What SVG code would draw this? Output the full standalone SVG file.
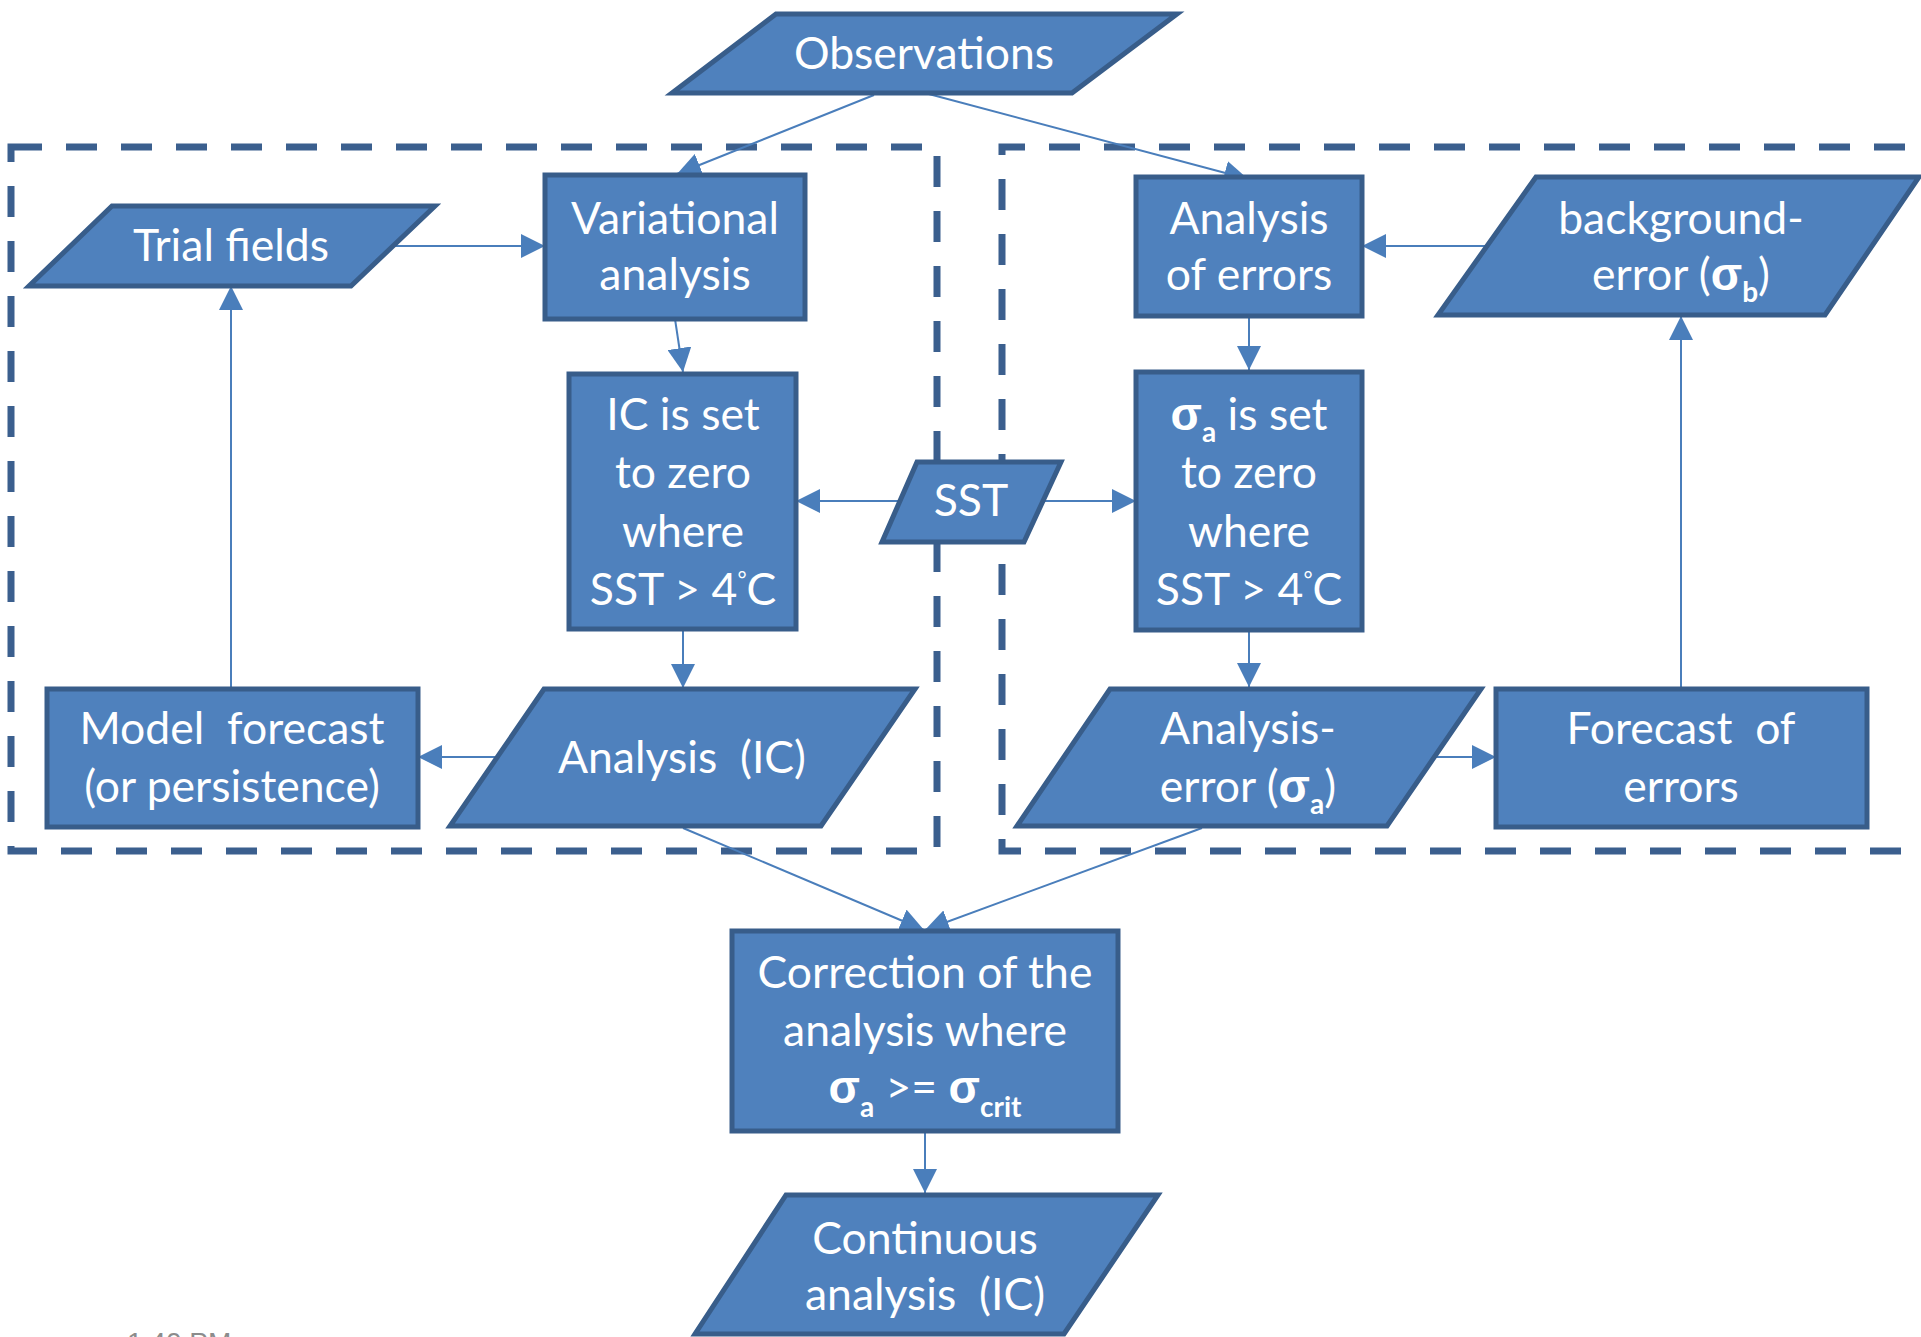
<svg xmlns="http://www.w3.org/2000/svg" width="1921" height="1337" viewBox="0 0 1921 1337">
<style>
.node { fill:#4F81BD; stroke:#385D8A; stroke-width:5; stroke-linejoin:miter; }
.lbl { font-family:Lato, "Liberation Sans", sans-serif; font-size:44.5px; fill:#FFFFFF; text-anchor:middle; white-space:pre; }
.sg { font-family:"Liberation Sans", "DejaVu Sans", sans-serif; font-weight:bold; font-size:46px; }
.sub { font-family:Lato, "Liberation Sans", sans-serif; font-weight:bold; font-size:28px; }
.dash { fill:none; stroke:#3B5F8E; stroke-width:7; stroke-dasharray:31 24; }
.conn { fill:none; stroke:#4A7EBB; stroke-width:2; marker-end:url(#arr); }
</style>
<defs>
<marker id="arr" markerUnits="userSpaceOnUse" viewBox="0 0 24 24" refX="24" refY="12" markerWidth="24" markerHeight="24" orient="auto">
<path d="M0,0 L24,12 L0,24 z" fill="#4A7EBB"/>
</marker>
</defs>
<rect width="1921" height="1337" fill="#FFFFFF"/>
<g id="groups">
<path class="dash" d="M11,147 H937 V851 H11 Z"/>
<path class="dash" d="M1960,147 H1002 V851 H1960"/>
</g>
<g id="connectors">
<path class="conn" d="M874,95 L677,174"/>
<path class="conn" d="M925,93 L1248,179"/>
<path class="conn" d="M392,246 L545,246"/>
<path class="conn" d="M675,319 L683,372"/>
<path class="conn" d="M900,501 L796,501"/>
<path class="conn" d="M1043,501 L1136,501"/>
<path class="conn" d="M1249,316 L1249,370"/>
<path class="conn" d="M1487,246 L1362,246"/>
<path class="conn" d="M683,629 L683,688"/>
<path class="conn" d="M497,757 L418,757"/>
<path class="conn" d="M231,689 L231,286"/>
<path class="conn" d="M1249,630 L1249,687"/>
<path class="conn" d="M1434,757 L1496,757"/>
<path class="conn" d="M1681,689 L1681,316"/>
<path class="conn" d="M683,828 L924,930"/>
<path class="conn" d="M1202,828 L925,930"/>
<path class="conn" d="M925,1131 L925,1193"/>
</g>
<g id="observations">
<polygon class="node" points="776,14 1177,14 1072,93 672,93"/>
<text class="lbl" x="924" y="69">Observations</text>
</g>
<g id="trial-fields">
<polygon class="node" points="112,206 435,206 351,286 29,286"/>
<text class="lbl" x="231" y="261">Trial fields</text>
</g>
<g id="variational-analysis">
<rect class="node" x="545" y="175" width="260" height="144"/>
<text class="lbl" x="675" y="234">Variational</text>
<text class="lbl" x="675" y="290">analysis</text>
</g>
<g id="ic-set-zero">
<rect class="node" x="569" y="374" width="227" height="255"/>
<text class="lbl" x="683" y="430">IC is set</text>
<text class="lbl" x="683" y="488">to zero</text>
<text class="lbl" x="683" y="547">where</text>
<text class="lbl" x="683" y="605">SST &gt; 4<tspan dy="-18" font-size="22">°</tspan><tspan dy="18">C</tspan></text>
</g>
<g id="sst">
<polygon class="node" points="917,462 1061,462 1024,542 882,542"/>
<text class="lbl" x="971" y="516">SST</text>
</g>
<g id="analysis-of-errors">
<rect class="node" x="1136" y="177" width="226" height="139"/>
<text class="lbl" x="1249" y="234">Analysis</text>
<text class="lbl" x="1249" y="290">of errors</text>
</g>
<g id="background-error">
<polygon class="node" points="1536,177 1919,177 1825,315 1438,315"/>
<text class="lbl" x="1681" y="234">background-</text>
<text class="lbl" x="1681" y="290">error (<tspan class="sg">σ</tspan><tspan class="sub" dy="12">b</tspan><tspan dy="-12">)</tspan></text>
</g>
<g id="sigma-a-set-zero">
<rect class="node" x="1136" y="372" width="226" height="258"/>
<text class="lbl" x="1249" y="430"><tspan class="sg">σ</tspan><tspan class="sub" dy="12">a</tspan><tspan dy="-12"> is set</tspan></text>
<text class="lbl" x="1249" y="488">to zero</text>
<text class="lbl" x="1249" y="547">where</text>
<text class="lbl" x="1249" y="605">SST &gt; 4<tspan dy="-18" font-size="22">°</tspan><tspan dy="18">C</tspan></text>
</g>
<g id="model-forecast">
<rect class="node" x="47" y="689" width="371" height="138"/>
<text class="lbl" x="232" y="744">Model  forecast</text>
<text class="lbl" x="232" y="802">(or persistence)</text>
</g>
<g id="analysis-ic">
<polygon class="node" points="544,689 915,689 821,826 450,826"/>
<text class="lbl" x="682" y="773">Analysis  (IC)</text>
</g>
<g id="analysis-error">
<polygon class="node" points="1110,689 1481,689 1387,826 1017,826"/>
<text class="lbl" x="1248" y="744">Analysis-</text>
<text class="lbl" x="1248" y="802">error (<tspan class="sg">σ</tspan><tspan class="sub" dy="12">a</tspan><tspan dy="-12">)</tspan></text>
</g>
<g id="forecast-of-errors">
<rect class="node" x="1496" y="689" width="371" height="138"/>
<text class="lbl" x="1681" y="744">Forecast  of</text>
<text class="lbl" x="1681" y="802">errors</text>
</g>
<g id="correction">
<rect class="node" x="732" y="931" width="386" height="200"/>
<text class="lbl" x="925" y="988">Correction of the</text>
<text class="lbl" x="925" y="1046">analysis where</text>
<text class="lbl" x="925" y="1103"><tspan class="sg">σ</tspan><tspan class="sub" dy="14">a</tspan><tspan dy="-14"> &gt;= </tspan><tspan class="sg">σ</tspan><tspan class="sub" dy="14">crit</tspan></text>
</g>
<g id="continuous-analysis">
<polygon class="node" points="786,1195 1158,1195 1064,1334 695,1334"/>
<text class="lbl" x="925" y="1254">Continuous</text>
<text class="lbl" x="925" y="1310">analysis  (IC)</text>
</g>
<text x="127" y="1352" font-family="'Liberation Sans', sans-serif" font-size="28" fill="#8C8C8C">1:40 PM</text>
</svg>
